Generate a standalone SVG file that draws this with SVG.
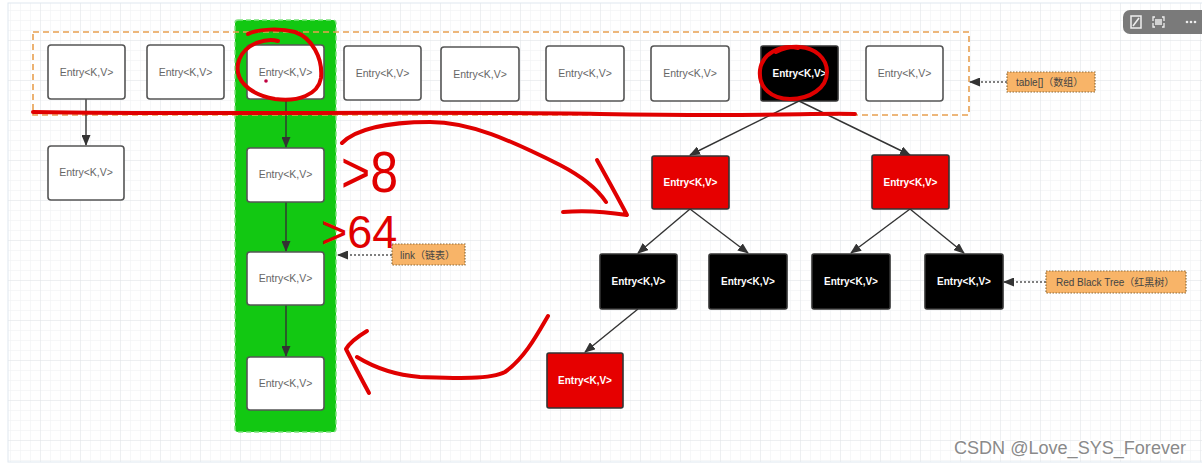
<svg xmlns="http://www.w3.org/2000/svg" width="1202" height="466" viewBox="0 0 1202 466">
<defs>
<pattern id="gridMinor" width="10" height="10" patternUnits="userSpaceOnUse">
<path d="M10 0 L0 0 0 10" fill="none" stroke="#eef0f2" stroke-width="1"/>
</pattern>
<pattern id="gridMajor" width="40" height="40" patternUnits="userSpaceOnUse">
<rect width="40" height="40" fill="url(#gridMinor)"/>
<path d="M40 0 L0 0 0 40" fill="none" stroke="#e2e5e8" stroke-width="1"/>
</pattern>
<marker id="arr" markerWidth="11" markerHeight="9" refX="10" refY="4.5" orient="auto" markerUnits="userSpaceOnUse">
<path d="M0 0 L11 4.5 L0 9 Z" fill="#333"/>
</marker>
<style>
.box{fill:#fff;stroke:#555;stroke-width:1.6}
.blk{fill:#000;stroke:#333;stroke-width:1.6}
.red{fill:#e60000;stroke:#333;stroke-width:1.6}
.t{font-family:"Liberation Sans",Arial,sans-serif;font-size:10.5px;fill:#666;text-anchor:middle}
.tw{font-family:"Liberation Sans",Arial,sans-serif;font-size:10px;font-weight:bold;fill:#fff;text-anchor:middle}
.edge{stroke:#333;stroke-width:1.4;fill:none;marker-end:url(#arr)}
.dot{stroke:#555;stroke-width:1.4;fill:none;stroke-dasharray:2 2;marker-end:url(#arr)}
.lbl{fill:#f8b468;stroke:#8a6a3a;stroke-width:1.2;stroke-dasharray:1.5 1.5}
.lt{font-family:"Liberation Sans","Noto Sans CJK SC",sans-serif;font-size:10px;fill:#444}
.ink{stroke:#e00000;stroke-width:4;fill:none;stroke-linecap:round;stroke-linejoin:round}
.hand{font-family:"Liberation Sans",sans-serif;fill:#e00000}
</style>
</defs>
<rect width="1202" height="466" fill="#fff"/>
<rect x="8" y="3" width="1200" height="459" fill="url(#gridMajor)" stroke="#dfe8f0" stroke-width="1"/>

<g id="toolbar">
<rect x="1123" y="10" width="86" height="24" rx="7" fill="#7a7a7a"/>
<path d="M1131 16 h10 v12 h-10 Z" fill="none" stroke="#eee" stroke-width="1.5"/>
<path d="M1133 26 L1139 18" stroke="#eee" stroke-width="1.5"/>
<path d="M1155 17 h-2 v4 M1155 27 h-2 v-4 M1162 17 h2 v4 M1162 27 h2 v-4 M1155 20 h7 M1155 22 h7 M1155 24 h7" fill="none" stroke="#eee" stroke-width="1.3"/>
<circle cx="1187" cy="22" r="1.3" fill="#eee"/><circle cx="1191" cy="22" r="1.3" fill="#eee"/><circle cx="1195" cy="22" r="1.3" fill="#eee"/>
</g>

<g id="linkColumn">
<rect x="235" y="20" width="101" height="412" rx="3" fill="#12c812" stroke="#7ee27e" stroke-width="1.5" stroke-dasharray="5 3"/>
</g>

<g id="tableArray">
<rect x="33" y="32" width="936" height="83" fill="none" stroke="#e8a050" stroke-width="1.6" stroke-dasharray="6 4"/>
</g>

<g id="connectors">
<path class="edge" d="M86 99 L86 145"/>
<path class="edge" d="M286 99 L286 147"/>
<path class="edge" d="M286 202 L286 251"/>
<path class="edge" d="M286 305 L286 356"/>
<path class="edge" d="M799 101 L690 155"/>
<path class="edge" d="M799 101 L910 155"/>
<path class="edge" d="M690 209 L638 253"/>
<path class="edge" d="M690 209 L748 253"/>
<path class="edge" d="M910 209 L851 253"/>
<path class="edge" d="M910 209 L964 253"/>
<path class="edge" d="M638 309 L585 352"/>
<path class="dot" d="M1007 82 L970 82"/>
<path class="dot" d="M392 255 L338 255"/>
<path class="dot" d="M1046 282 L1004 282"/>
</g>

<g id="t0"><rect class="box" x="48" y="45" width="77" height="54" rx="3"/><text class="t" x="86.5" y="75.5">Entry&lt;K,V&gt;</text></g>
<g id="t1"><rect class="box" x="147" y="45" width="77" height="54" rx="3"/><text class="t" x="185.5" y="75.5">Entry&lt;K,V&gt;</text></g>
<g id="t2"><rect class="box" x="247" y="45" width="77" height="54" rx="3"/><text class="t" x="285.5" y="75.5">Entry&lt;K,V&gt;</text></g>
<g id="t3"><rect class="box" x="344" y="46" width="77" height="54" rx="3"/><text class="t" x="382.5" y="76.5">Entry&lt;K,V&gt;</text></g>
<g id="t4"><rect class="box" x="441" y="47" width="78" height="54" rx="3"/><text class="t" x="480" y="78">Entry&lt;K,V&gt;</text></g>
<g id="t5"><rect class="box" x="546" y="46" width="78" height="55" rx="3"/><text class="t" x="585" y="77">Entry&lt;K,V&gt;</text></g>
<g id="t6"><rect class="box" x="651" y="46" width="78" height="55" rx="3"/><text class="t" x="690" y="77">Entry&lt;K,V&gt;</text></g>
<g id="t7"><rect class="blk" x="761" y="46" width="77" height="55" rx="2"/><text class="tw" x="799.5" y="77">Entry&lt;K,V&gt;</text></g>
<g id="t8"><rect class="box" x="866" y="46" width="77" height="55" rx="3"/><text class="t" x="904.5" y="77">Entry&lt;K,V&gt;</text></g>

<g id="c0"><rect class="box" x="48" y="146" width="76" height="54" rx="3"/><text class="t" x="86" y="176">Entry&lt;K,V&gt;</text></g>

<g id="l1"><rect class="box" x="247" y="148" width="77" height="54" rx="3"/><text class="t" x="285.5" y="178">Entry&lt;K,V&gt;</text></g>
<g id="l2"><rect class="box" x="247" y="252" width="77" height="53" rx="3"/><text class="t" x="285.5" y="281.5">Entry&lt;K,V&gt;</text></g>
<g id="l3"><rect class="box" x="247" y="357" width="77" height="53" rx="3"/><text class="t" x="285.5" y="386.5">Entry&lt;K,V&gt;</text></g>

<g id="rb1"><rect class="red" x="652" y="156" width="77" height="53" rx="2"/><text class="tw" x="690.5" y="186">Entry&lt;K,V&gt;</text></g>
<g id="rb2"><rect class="red" x="872" y="155" width="77" height="54" rx="2"/><text class="tw" x="910.5" y="185.5">Entry&lt;K,V&gt;</text></g>
<g id="rb3"><rect class="blk" x="600" y="254" width="77" height="55" rx="2"/><text class="tw" x="638.5" y="285">Entry&lt;K,V&gt;</text></g>
<g id="rb4"><rect class="blk" x="709" y="254" width="78" height="55" rx="2"/><text class="tw" x="748" y="285">Entry&lt;K,V&gt;</text></g>
<g id="rb5"><rect class="blk" x="812" y="254" width="78" height="55" rx="2"/><text class="tw" x="851" y="285">Entry&lt;K,V&gt;</text></g>
<g id="rb6"><rect class="blk" x="925" y="254" width="78" height="55" rx="2"/><text class="tw" x="964" y="285">Entry&lt;K,V&gt;</text></g>
<g id="rb7"><rect class="red" x="547" y="353" width="76" height="55" rx="2"/><text class="tw" x="585" y="384">Entry&lt;K,V&gt;</text></g>

<g id="labelTable"><rect class="lbl" x="1007" y="72" width="88" height="20"/><text class="lt" x="1016" y="86">table[]（数组）</text></g>
<g id="labelLink"><rect class="lbl" x="392" y="244" width="73" height="21"/><text class="lt" x="400" y="258.5">link（链表）</text></g>
<g id="labelRBT"><rect class="lbl" x="1046" y="271" width="140" height="22"/><text class="lt" x="1056" y="286">Red Black Tree（红黑树）</text></g>

<g id="annotations">
<path class="ink" d="M33 112 C 200 115, 420 111, 600 114 S 800 113, 855 114"/>
<path class="ink" d="M278 41 C 268 38, 246 42, 239 60 C 233 78, 247 94, 275 99 C 298 102, 318 95, 321 78 C 323 58, 312 38, 295 32 C 280 28, 258 29, 248 34"/>
<circle cx="266" cy="81" r="1.8" fill="#c00040"/>
<path class="ink" d="M798 48 C 780 44, 762 54, 760 70 C 758 88, 772 99, 790 99 C 810 99, 827 88, 827 72 C 827 58, 815 48, 800 47 C 790 46, 780 50, 776 52"/>
<path class="ink" d="M342 143 C 355 130, 385 122, 430 122 C 470 122, 510 140, 560 165 C 585 178, 598 190, 606 202"/>
<path class="ink" d="M597 160 C 607 178, 618 198, 627 215 C 608 212, 585 210, 563 212"/>
<path class="ink" d="M548 316 C 538 333, 525 358, 505 372 C 490 380, 450 378, 420 377 C 395 375, 375 368, 357 357"/>
<path class="ink" d="M367 331 C 357 337, 350 342, 346 349 C 353 363, 362 380, 369 393"/>
<text class="hand" x="341" y="0" font-size="50" transform="translate(0,192) scale(1,1.16)">&gt;8</text>
<text class="hand" x="321" y="0" font-size="45" transform="translate(0,248) scale(1,1.04)">&gt;64</text>
</g>

<g id="watermark">
<text x="954" y="454" font-family="Liberation Sans,Arial,sans-serif" font-size="18" fill="#8a8a8a" textLength="232" lengthAdjust="spacingAndGlyphs" stroke="#fff" stroke-width="2.5" paint-order="stroke">CSDN @Love_SYS_Forever</text>
</g>
</svg>
